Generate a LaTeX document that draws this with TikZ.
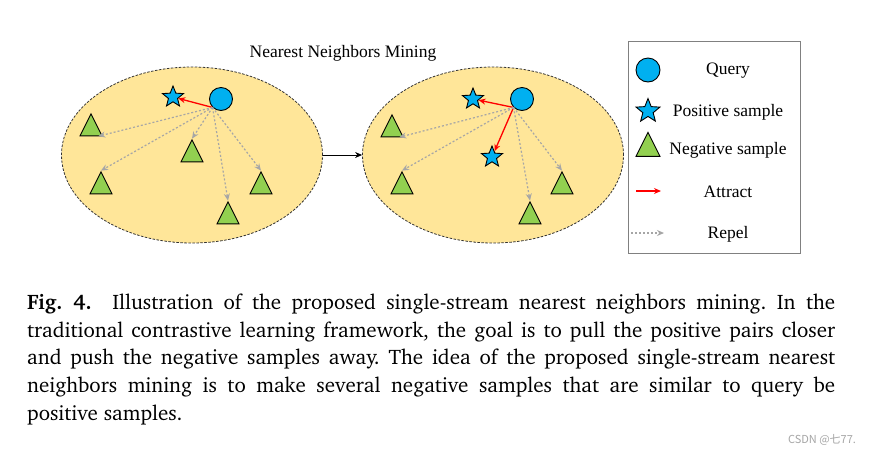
\documentclass[tikz,border=0pt]{standalone}
\usepackage[T1]{fontenc}
\usepackage{fontspec}
\setmainfont{Liberation Serif}
\newfontfamily\cjkfont{Noto Sans CJK SC}
\usetikzlibrary{shapes.geometric,arrows.meta}
\definecolor{qblue}{HTML}{00B0F0}
\definecolor{ngreen}{HTML}{92D050}
\definecolor{rfill}{HTML}{FFE699}
\definecolor{rgray}{HTML}{A6A6A6}
\newcommand{\capfont}{\fontencoding{T1}\fontfamily{bch}\selectfont\frenchspacing}

\begin{document}
\begin{tikzpicture}[
    x=1pt, y=-1pt,
    font=\fontsize{17.5}{20}\selectfont,
    region/.style={ellipse, draw=black!80, fill=rfill, line width=0.8pt, dash pattern=on 2.5pt off 1.5pt, minimum width=261pt, minimum height=176pt, inner sep=0pt},
    query/.style={circle, draw, fill=qblue, line width=0.9pt, minimum size=23pt, inner sep=0pt},
    positive/.style={star, star points=5, star point ratio=2.3, draw, fill=qblue, line width=0.9pt, minimum size=22pt, inner sep=0pt},
    negative/.style={isosceles triangle, isosceles triangle stretches, shape border rotate=90, draw, fill=ngreen, line width=0.9pt, minimum width=22pt, minimum height=22pt, inner sep=0pt},
    attract/.style={-{Stealth[length=7pt,width=6pt]}, red, line width=1.3pt},
    repel/.style={-{Stealth[length=7pt,width=6pt]}, rgray, line width=1.2pt, dash pattern=on 2pt off 2pt}
]
    \useasboundingbox[fill=white] (0,0) rectangle (881,456);

    % two sample spaces
    \node[region] (L) at (192,155) {};
    \node[region] (R) at (493,155) {};
    \draw[-{Stealth[length=7pt,width=6pt]}, line width=1pt] (L.east) -- (R.west);
    \node (title) at (343,53) {Nearest Neighbors Mining};

    % left: before mining
    \node[query] (q1) at (221,99) {};
    \node[positive] (p1) at (173,97) {};
    \node[negative] (a1) at (91,129) {};
    \node[negative] (a2) at (192,155) {};
    \node[negative] (a3) at (101,187) {};
    \node[negative] (a4) at (228,217) {};
    \node[negative] (a5) at (261,187) {};

    \draw[attract] (q1.south west) -- (p1);
    \draw[repel] (q1.south west) -- (a1.south east);
    \foreach \n in {a2,a3,a4,a5}
        \draw[repel] (q1.south west) -- (\n.apex);

    % right: after mining
    \node[query] (q2) at (522,99) {};
    \node[positive] (p2) at (473,99) {};
    \node[positive] (p3) at (492,157) {};
    \node[negative] (b1) at (392,130) {};
    \node[negative] (b2) at (402,187) {};
    \node[negative] (b3) at (530,217) {};
    \node[negative] (b4) at (562,187) {};

    \draw[attract] (q2.south west) -- (p2);
    \draw[attract] (q2.south west) -- (p3);
    \draw[repel] (q2.south west) -- (b1.south east);
    \foreach \n in {b2,b3,b4}
        \draw[repel] (q2.south west) -- (\n.apex);

    % legend
    \node[draw=gray, line width=0.9pt, minimum width=172pt, minimum height=212pt, inner sep=0pt] (key) at (714,147) {};
    \node[query, minimum size=24pt] (kq) at (648,70) {};
    \node (tq) at (728,71) {Query};
    \node[positive, minimum size=25pt] (kp) at (648,111) {};
    \node (tp) at (728,112) {Positive sample};
    \node[negative, minimum width=24pt, minimum height=24pt] (kn) at (648,149) {};
    \node (tn) at (728,150) {Negative sample};
    \coordinate (ka0) at (636,191);
    \coordinate (ka1) at (661,191);
    \draw[attract] (ka0) -- (ka1);
    \node (ta) at (728,192) {Attract};
    \coordinate (kr0) at (631,233);
    \coordinate (kr1) at (664,233);
    \draw[repel] (kr0) -- (kr1);
    \node (tr) at (728,234) {Repel};

    % caption
    \node[anchor=north west, inner sep=0pt, align=left, font=\capfont\fontsize{21}{27.75}\selectfont] (cap) at (27,293.5) {%
        \makebox[808pt][s]{\textbf{Fig. 4.}\ \ Illustration of the proposed single-stream nearest neighbors mining. In the}\\
        \makebox[808pt][s]{traditional contrastive learning framework, the goal is to pull the positive pairs closer}\\
        \makebox[808pt][s]{and push the negative samples away. The idea of the proposed single-stream nearest}\\
        \makebox[808pt][s]{neighbors mining is to make several negative samples that are similar to query be}\\
        positive samples.};
    \node[font=\cjkfont\fontsize{11}{13}\selectfont, text=gray!70] (wm) at (822,440) {CSDN @七77.};
\end{tikzpicture}
\end{document}
